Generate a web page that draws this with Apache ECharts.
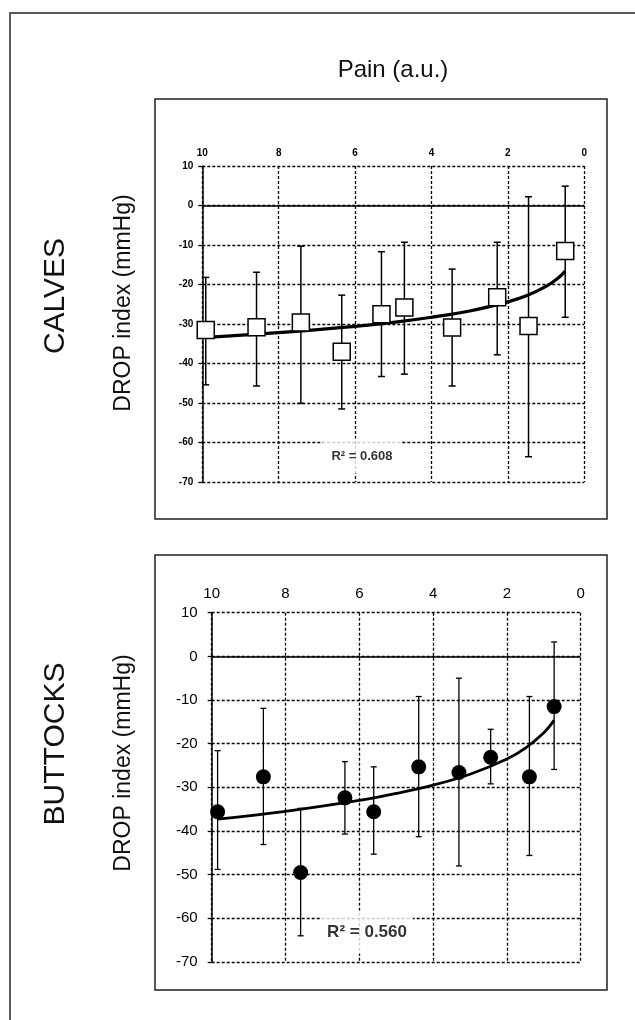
<!DOCTYPE html>
<html>
<head>
<meta charset="utf-8">
<script src="https://cdn.jsdelivr.net/npm/echarts@6/dist/echarts.min.js"></script>
<style>
html,body{margin:0;padding:0;background:#fff;}
#chart{width:635px;height:1020px;}
</style>
</head>
<body>
<div id="chart"></div>
<script>
// ---- Data ----
var xTicks = [0, 2, 4, 6, 8, 10];
var yTicks = [10, 0, -10, -20, -30, -40, -50, -60, -70];

// CALVES panel
var painCalves = [9.91, 8.58, 7.42, 6.35, 5.31, 4.71, 3.46, 2.28, 1.46, 0.50];
var dropCalves = [-31.5, -30.8, -29.6, -37.0, -27.5, -25.8, -30.9, -23.2, -30.5, -11.5];
var calvesHigh = [-18.2, -16.9, -10.3, -22.7, -11.7, -9.3, -16.1, -9.3, 2.2, 4.9];
var calvesLow  = [-45.4, -45.7, -50.1, -51.5, -43.3, -42.7, -45.7, -37.8, -63.6, -28.3];
var trendCalvesX = [9.91, 8, 6, 5, 4, 3, 2, 1.5, 1, 0.7, 0.5];
var trendCalvesY = [-33.4, -32.2, -30.6, -29.6, -28.3, -26.7, -24.4, -22.8, -20.5, -18.5, -16.6];
var r2Calves = 'R² = 0.608';
var r2CalvesAt = [5.82, -63.4];

// BUTTOCKS panel
var painButt = [9.84, 8.60, 7.59, 6.39, 5.61, 4.39, 3.30, 2.44, 1.39, 0.72];
var dropButt = [-35.6, -27.6, -49.5, -32.4, -35.6, -25.3, -26.6, -23.1, -27.6, -11.5];
var buttHigh = [-21.6, -11.9, -34.8, -24.1, -25.3, -9.2, -5.0, -16.7, -9.2, 3.3];
var buttLow  = [-48.8, -43.1, -64.0, -40.7, -45.3, -41.3, -48.0, -29.2, -45.6, -25.9];
var trendButtX = [9.84, 8, 6, 5, 4, 3, 2, 1.5, 1, 0.72];
var trendButtY = [-37.3, -35.5, -33.0, -31.4, -29.5, -27.0, -23.5, -21.0, -17.5, -14.6];
var r2Butt = 'R² = 0.560';
var r2ButtAt = [5.79, -63.2];

// ---- Helpers ----
var FONT = 'Liberation Sans, Arial, Helvetica, sans-serif';
function zip(a, b) { return a.map(function (v, i) { return [v, b[i]]; }); }
function zip3(a, b, c) { return a.map(function (v, i) { return [v, b[i], c[i]]; }); }

function errorBarRenderer(capHalf, lw) {
  return function (params, api) {
    var x = api.value(0), lo = api.value(1), hi = api.value(2);
    var p1 = api.coord([x, hi]), p2 = api.coord([x, lo]);
    var st = { stroke: '#000', lineWidth: lw };
    return {
      type: 'group',
      children: [
        { type: 'line', shape: { x1: p1[0], y1: p1[1], x2: p2[0], y2: p2[1] }, style: st },
        { type: 'line', shape: { x1: p1[0] - capHalf, y1: p1[1], x2: p1[0] + capHalf, y2: p1[1] }, style: st },
        { type: 'line', shape: { x1: p2[0] - capHalf, y1: p2[1], x2: p2[0] + capHalf, y2: p2[1] }, style: st }
      ]
    };
  };
}

function makeXAxis(gi, fs, fw, margin) {
  return {
    gridIndex: gi, type: 'value', min: 0, max: 10, interval: 2, inverse: true, position: 'top',
    axisLine: { show: false, onZero: false },
    axisTick: { show: false },
    axisLabel: { color: '#000', fontSize: fs, fontWeight: fw, fontFamily: FONT, margin: margin },
    splitLine: { show: true, lineStyle: { color: '#000', width: 1.3, type: [3, 2] } }
  };
}
function makeYAxis(gi, fs, fw, margin) {
  return {
    gridIndex: gi, type: 'value', min: -70, max: 10, interval: 10, position: 'left',
    axisLine: { show: true, onZero: false, lineStyle: { color: '#000', width: 1.5 } },
    axisTick: { show: true, length: 4, lineStyle: { color: '#000', width: 1.3 } },
    axisLabel: { color: '#000', fontSize: fs, fontWeight: fw, fontFamily: FONT, margin: margin },
    splitLine: { show: true, lineStyle: { color: '#000', width: 1.3, type: [3, 2] } }
  };
}

var chart = echarts.init(document.getElementById('chart'), null, { renderer: 'canvas' });

var option = {
  animation: false,
  backgroundColor: '#fff',
  grid: [
    { left: 202.3, top: 166, width: 382, height: 316 },
    { left: 211.7, top: 612.7, width: 369, height: 349.3 }
  ],
  xAxis: [makeXAxis(0, 10, 'bold', 8), makeXAxis(1, 15, 'normal', 11)],
  yAxis: [makeYAxis(0, 10, 'bold', 9), makeYAxis(1, 15, 'normal', 14)],
  series: [
    // ---- CALVES ----
    {
      type: 'custom', xAxisIndex: 0, yAxisIndex: 0, z: 3,
      renderItem: errorBarRenderer(3.5, 1.5),
      encode: { x: 0, y: [1, 2] },
      data: zip3(painCalves, calvesLow, calvesHigh)
    },
    {
      type: 'line', xAxisIndex: 0, yAxisIndex: 0, z: 4,
      data: zip(trendCalvesX, trendCalvesY), smooth: 0.4, showSymbol: false, symbol: 'none',
      lineStyle: { color: '#000', width: 3.2 },
      markLine: {
        silent: true, symbol: ['none', 'none'], label: { show: false },
        lineStyle: { color: '#000', width: 1.5, type: 'solid' },
        data: [{ yAxis: 0 }]
      }
    },
    {
      type: 'scatter', xAxisIndex: 0, yAxisIndex: 0, z: 5,
      symbol: 'rect', symbolSize: 17,
      itemStyle: { color: '#fff', borderColor: '#000', borderWidth: 1.5, opacity: 1 },
      data: zip(painCalves, dropCalves)
    },
    {
      type: 'scatter', xAxisIndex: 0, yAxisIndex: 0, z: 6, symbolSize: 0, silent: true,
      data: [r2CalvesAt],
      label: {
        show: true, position: 'inside', formatter: r2Calves,
        color: '#000', fontSize: 13, fontWeight: 'bold', fontFamily: FONT,
        backgroundColor: '#fff', padding: [11, 9]
      }
    },
    // ---- BUTTOCKS ----
    {
      type: 'custom', xAxisIndex: 1, yAxisIndex: 1, z: 3,
      renderItem: errorBarRenderer(3, 1.3),
      encode: { x: 0, y: [1, 2] },
      data: zip3(painButt, buttLow, buttHigh)
    },
    {
      type: 'line', xAxisIndex: 1, yAxisIndex: 1, z: 4,
      data: zip(trendButtX, trendButtY), smooth: 0.4, showSymbol: false, symbol: 'none',
      lineStyle: { color: '#000', width: 2.8 },
      markLine: {
        silent: true, symbol: ['none', 'none'], label: { show: false },
        lineStyle: { color: '#000', width: 1.5, type: 'solid' },
        data: [{ yAxis: 0 }]
      }
    },
    {
      type: 'scatter', xAxisIndex: 1, yAxisIndex: 1, z: 5,
      symbol: 'circle', symbolSize: 15,
      itemStyle: { color: '#000', opacity: 1 },
      data: zip(painButt, dropButt)
    },
    {
      type: 'scatter', xAxisIndex: 1, yAxisIndex: 1, z: 6, symbolSize: 0, silent: true,
      data: [r2ButtAt],
      label: {
        show: true, position: 'inside', formatter: r2Butt,
        color: '#000', fontSize: 17, fontWeight: 'bold', fontFamily: FONT,
        backgroundColor: '#fff', padding: [13, 6]
      }
    }
  ],
  graphic: [
    { type: 'polyline', silent: true, z: 0, shape: { points: [[10, 1020], [10, 13], [635, 13]] },
      style: { fill: null, stroke: '#5a5a5a', lineWidth: 2 } },
    { type: 'rect', silent: true, z: 0, shape: { x: 155, y: 99, width: 452, height: 420 },
      style: { fill: null, stroke: '#222', lineWidth: 1.5 } },
    { type: 'rect', silent: true, z: 0, shape: { x: 155, y: 555, width: 452, height: 435 },
      style: { fill: null, stroke: '#222', lineWidth: 1.5 } },
    { type: 'text', silent: true, x: 393, y: 70,
      style: { text: 'Pain (a.u.)', font: '24px ' + FONT, fill: '#111', textAlign: 'center', textVerticalAlign: 'middle' } },
    { type: 'text', silent: true, x: 56, y: 296, rotation: Math.PI / 2,
      style: { text: 'CALVES', font: '30px ' + FONT, fill: '#111', textAlign: 'center', textVerticalAlign: 'middle' } },
    { type: 'text', silent: true, x: 124, y: 303, rotation: Math.PI / 2,
      style: { text: 'DROP index (mmHg)', font: '23px ' + FONT, fill: '#111', textAlign: 'center', textVerticalAlign: 'middle' } },
    { type: 'text', silent: true, x: 56, y: 744, rotation: Math.PI / 2,
      style: { text: 'BUTTOCKS', font: '30px ' + FONT, fill: '#111', textAlign: 'center', textVerticalAlign: 'middle' } },
    { type: 'text', silent: true, x: 124, y: 763, rotation: Math.PI / 2,
      style: { text: 'DROP index (mmHg)', font: '23px ' + FONT, fill: '#111', textAlign: 'center', textVerticalAlign: 'middle' } }
  ]
};
chart.setOption(option);
</script>
</body>
</html>
